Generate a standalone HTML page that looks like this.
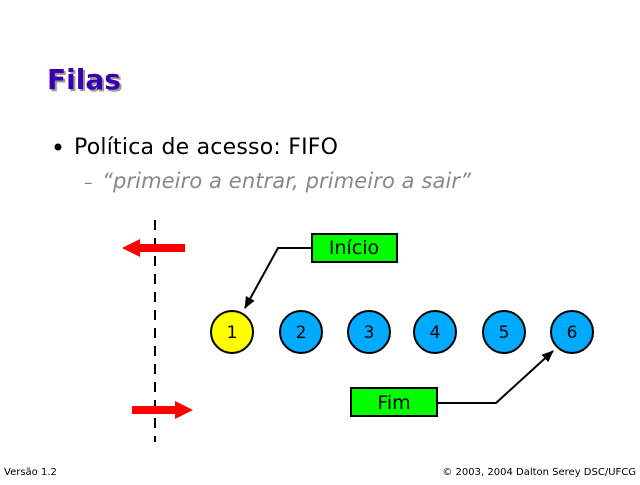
<!DOCTYPE html>
<html><head><style>body{margin:0;background:#fff}</style></head><body>
<svg width="640" height="480" xmlns="http://www.w3.org/2000/svg" font-family="DejaVu Sans, Liberation Sans, sans-serif">
<defs><marker id="a" markerWidth="12" markerHeight="10" refX="11" refY="5" orient="auto" markerUnits="userSpaceOnUse"><path d="M0,0L12,5L0,10z" fill="#000"/></marker></defs>
<text x="49" y="91" font-size="28" font-weight="bold" fill="#999">Filas</text>
<text x="47" y="89" font-size="28" font-weight="bold" fill="#3a00b0">Filas</text>
<circle cx="58" cy="147" r="3.5" fill="#000"/>
<text x="74" y="154" font-size="22" fill="#000" textLength="264">Política de acesso: FIFO</text>
<text x="84" y="188" font-size="17" fill="#888">–</text>
<text x="102" y="188" font-size="21" font-style="italic" fill="#888" textLength="369">“primeiro a entrar, primeiro a sair”</text>
<line x1="155" y1="220" x2="155" y2="442" stroke="#000" stroke-width="2" stroke-dasharray="10,8"/>
<polygon points="122,248 140,239 140,244 185,244 185,252 140,252 140,257" fill="#f00"/>
<polygon points="193,410 175,401 175,406 132,406 132,414 175,414 175,419" fill="#f00"/>
<g stroke="#000" stroke-width="2" text-anchor="middle">
<circle cx="232" cy="332" r="21" fill="#ff0"/>
<circle cx="301" cy="332" r="21" fill="#0af"/>
<circle cx="369" cy="332" r="21" fill="#0af"/>
<circle cx="435" cy="332" r="21" fill="#0af"/>
<circle cx="504" cy="332" r="21" fill="#0af"/>
<circle cx="572" cy="332" r="21" fill="#0af"/>
<rect x="312" y="234" width="85" height="28" fill="#0f0"/>
<rect x="351" y="388" width="86" height="28" fill="#0f0"/>
<polyline points="312,248 278,248 245,308" fill="none" marker-end="url(#a)"/>
<polyline points="437,403 496,403 553,351" fill="none" marker-end="url(#a)"/>
</g>
<g font-size="17" text-anchor="middle" fill="#000">
<text x="232" y="338">1</text><text x="301" y="338">2</text><text x="369" y="338">3</text>
<text x="435" y="338">4</text><text x="504" y="338">5</text><text x="572" y="338">6</text>
<text x="354" y="254" font-size="19">Início</text>
<text x="394" y="409" font-size="19">Fim</text>
</g>
<text x="4" y="475" font-size="10">Versão 1.2</text>
<text x="636" y="475" font-size="10" text-anchor="end">© 2003, 2004 Dalton Serey DSC/UFCG</text>
</svg>
</body></html>
